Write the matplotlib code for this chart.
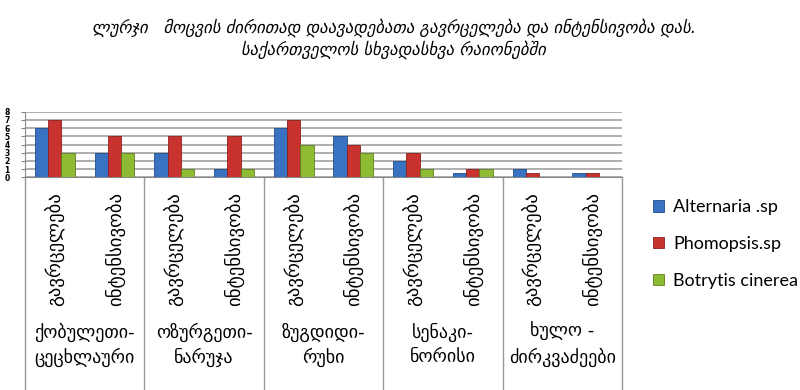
import matplotlib
matplotlib.use("Agg")
import matplotlib.pyplot as plt
import numpy as np

title_lines = ["ლურჯი   მოცვის ძირითად დაავადებათა გავრცელება და ინტენსივობა დას.",
               "საქართველოს სხვადასხვა რაიონებში"]
regions = ["ქობულეთი-\nცეცხლაური", "ოზურგეთი-\nნარუჯა", "ზუგდიდი-\nრუხი",
           "სენაკი-\nნორისი", "ხულო -\nძირკვაძეები"]
measures = ["გავრცელება", "ინტენსივობა"]
series_names = ["Alternaria .sp", "Phomopsis.sp", "Botrytis cinerea"]
alternaria = [6, 3, 3, 1, 6, 5, 2, 0.5, 1, 0.5]
phomopsis = [7, 5, 5, 5, 7, 4, 3, 1, 0.5, 0.5]
botrytis = [3, 3, 1, 1, 4, 3, 1, 1, 0, 0]
yticks = [0, 1, 2, 3, 4, 5, 6, 7, 8]

colors = ["#3A72C2", "#C8332F", "#8FBA34"]
edges = ["#1F4E8C", "#8E1F1C", "#5E7F1C"]

fig = plt.figure(figsize=(8, 3.9), dpi=100)
W, H = 800, 390
left, right, top, bottom = 25, 622, 111.7, 177.3
ax = fig.add_axes([left / W, 1 - bottom / H, (right - left) / W, (bottom - top) / H])

n = len(alternaria)
x = np.arange(n)
bw = 0.222
data = [alternaria, phomopsis, botrytis]
for k, (vals, c, e, name) in enumerate(zip(data, colors, edges, series_names)):
    ax.bar(x + (k - 1) * bw, vals, width=bw, color=c, edgecolor=e, linewidth=0.6,
           label=name, zorder=3)

ax.set_xlim(-0.5, n - 0.5)
ax.set_ylim(0, 8)
ax.set_yticks(yticks)
ax.set_yticklabels([str(t) for t in yticks], fontsize=5.5, fontweight="bold")
ax.tick_params(axis="y", length=3, color="#888888", pad=8)
ax.set_xticks([])
ax.grid(axis="y", color="#A8A8A8", linewidth=1.3, zorder=0)
for s in ["top", "right"]:
    ax.spines[s].set_visible(False)
ax.spines["left"].set_color("#888888")
ax.spines["bottom"].set_color("#888888")

trans = ax.get_xaxis_transform()
for i in range(n):
    ax.text(i, -0.22, measures[i % 2], transform=trans, rotation=90,
            ha="center", va="top", fontsize=13.5, family="DejaVu Sans")
for g in range(len(regions) + 1):
    xb = -0.5 + 2 * g
    ax.plot([xb, xb], [0, -3.25], transform=trans, color="#999999",
            linewidth=1, clip_on=False)
for g, r in enumerate(regions):
    ax.text(2 * g + 0.5, -2.55, r, transform=trans, ha="center", va="center",
            fontsize=13, linespacing=1.4, family="DejaVu Sans")

fig.text(0.492, 1 - 28 / H, title_lines[0], ha="center", va="center",
         fontsize=12, style="italic", family="DejaVu Sans")
fig.text(0.492, 1 - 50 / H, title_lines[1], ha="center", va="center",
         fontsize=12, style="italic", family="DejaVu Sans")

leg = ax.legend(loc="upper left", bbox_to_anchor=(637 / W, 1 - 183 / H),
                bbox_transform=fig.transFigure, frameon=False,
                prop={"family": "Lato", "size": 13}, handlelength=0.6,
                handleheight=0.6, labelspacing=1.15, handletextpad=0.5)

fig.savefig("out.png", dpi=100)
